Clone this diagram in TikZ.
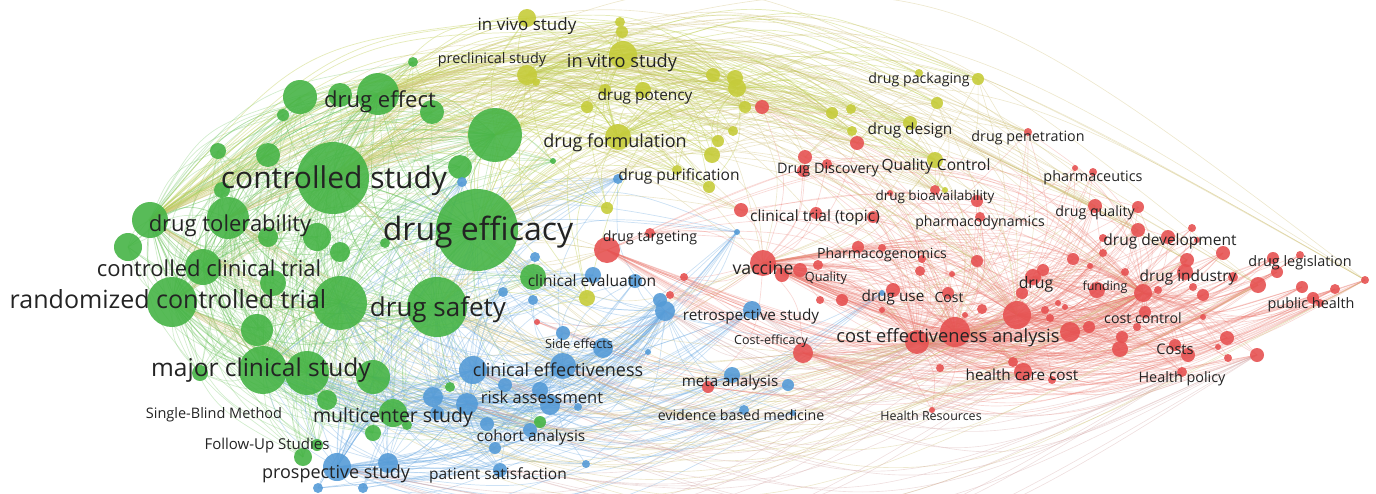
\documentclass[tikz,border=0pt]{standalone}
\usepackage{fontspec}
\setmainfont{Open Sans}
\usetikzlibrary{calc}

\definecolor{grn}{RGB}{70,180,70}
\definecolor{red}{RGB}{230,82,82}
\definecolor{blu}{RGB}{85,155,215}
\definecolor{yel}{RGB}{198,204,58}
\definecolor{grnline}{RGB}{110,195,95}
\definecolor{redline}{RGB}{232,115,105}
\definecolor{bluline}{RGB}{110,170,225}
\definecolor{yelline}{RGB}{190,205,80}
\definecolor{mixline}{RGB}{205,190,115}
\definecolor{lowline}{RGB}{210,165,165}
\definecolor{lbl}{RGB}{35,35,35}

\pgfdeclarelayer{edges}
\pgfsetlayers{edges,main}

% curved link, bent away from the middle of the map
\newcommand\linkarc[4]{%
  \draw[#1] let \p1=(#2.center), \p2=(#3.center),
    \n1={sign(((\x1+\x2)/200-1.7)*(\y1-\y2)/100+((\y1+\y2)/200+0.625)*(\x2-\x1)/100)} in
    (\p1) .. controls ({(\x1+\x2)/2+\n1*#4*(\y1-\y2)},{(\y1+\y2)/2+\n1*#4*(\x2-\x1)}) .. (\p2);}
\newcommand\termfont[1]{\pgfmathsetmacro\termsize{#1/4}\fontsize{\termsize}{\termsize}\selectfont}

\tikzset{
  gn/.style={circle,inner sep=0pt,fill=grn,fill opacity=.9,minimum size=.5*#1},
  rn/.style={circle,inner sep=0pt,fill=red,fill opacity=.9,minimum size=.5*#1},
  bn/.style={circle,inner sep=0pt,fill=blu,fill opacity=.9,minimum size=.5*#1},
  yn/.style={circle,inner sep=0pt,fill=yel,fill opacity=.9,minimum size=.5*#1},
  term/.style={font=\termfont{#1},text=lbl,inner sep=0pt,anchor=mid},
  gline/.style={draw=grnline,line width=.18pt,draw opacity=.3},
  rline/.style={draw=redline,line width=.17pt,draw opacity=.27},
  bline/.style={draw=bluline,line width=.18pt,draw opacity=.35},
  yline/.style={draw=yelline,line width=.18pt,draw opacity=.4},
  mline/.style={draw=mixline,line width=.16pt,draw opacity=.35},
  lline/.style={draw=lowline,line width=.16pt,draw opacity=.35}
}

\begin{document}
\begin{tikzpicture}[x=.25pt,y=-.25pt]
\useasboundingbox (0,0) rectangle (1376,493);

% green cluster
\node[gn=41] (g1) at (477,230) {};
\node[gn=36] (g2) at (333,178) {};
\node[gn=30] (g3) at (437,307) {};
\node[gn=27] (g4) at (340,303) {};
\node[gn=25] (g5) at (172,302) {};
\node[gn=27] (g6) at (495,135) {};
\node[gn=24] (g7) at (263,370) {};
\node[gn=22] (g8) at (307,373) {};
\node[gn=21] (g9) at (378,94) {};
\node[gn=21] (g10) at (228,218) {};
\node[gn=17] (g11) at (300,97) {};
\node[gn=18] (g12) at (150,220) {};
\node[gn=17] (g13) at (373,377) {};
\node[gn=18] (g14) at (203,267) {};
\node[gn=14] (g15) at (128,247) {};
\node[gn=12] (g16) at (268,155) {};
\node[gn=8] (g17) at (218,151) {};
\node[gn=14] (g18) at (317,237) {};
\node[gn=10] (g19) at (340,252) {};
\node[gn=13] (g20) at (273,283) {};
\node[gn=16] (g21) at (257,330) {};
\node[gn=14] (g22) at (393,413) {};
\node[gn=10] (g23) at (327,400) {};
\node[gn=12] (g24) at (460,167) {};
\node[gn=13] (g25) at (533,277) {};
\node[gn=10] (g26) at (268,237) {};
\node[gn=12] (g27) at (432,112) {};
\node[gn=5] (g28) at (413,62) {};
\node[gn=6] (g29) at (283,115) {};
\node[gn=8] (g30) at (200,373) {};
\node[gn=8] (g31) at (373,433) {};
\node[gn=9] (g32) at (303,457) {};
\node[gn=6] (g33) at (317,445) {};
\node[gn=12] (g34) at (340,95) {};
\node[gn=3] (g35) at (553,161) {};
\node[gn=5] (g36) at (450,387) {};
\node[gn=6] (g37) at (540,422) {};
\node[gn=8] (g38) at (222,190) {};
\node[gn=5] (g39) at (385,243) {};
\node[gn=5] (g40) at (407,425) {};

% blue cluster
\node[bn=14] (b1) at (473,370) {};
\node[bn=13] (b2) at (563,366) {};
\node[bn=10] (b3) at (603,348) {};
\node[bn=7] (b4) at (563,333) {};
\node[bn=10] (b5) at (665,311) {};
\node[bn=9] (b6) at (752,310) {};
\node[bn=7] (b7) at (660,300) {};
\node[bn=7] (b8) at (635,281) {};
\node[bn=8] (b9) at (593,275) {};
\node[bn=5] (b10) at (535,257) {};
\node[bn=5] (b11) at (503,292) {};
\node[bn=5] (b12) at (533,300) {};
\node[bn=11] (b13) at (467,404) {};
\node[bn=10] (b14) at (550,405) {};
\node[bn=8] (b15) at (540,390) {};
\node[bn=7] (b16) at (505,385) {};
\node[bn=10] (b17) at (433,397) {};
\node[bn=7] (b18) at (487,424) {};
\node[bn=7] (b19) at (530,430) {};
\node[bn=6] (b20) at (495,448) {};
\node[bn=7] (b21) at (500,470) {};
\node[bn=4] (b22) at (586,464) {};
\node[bn=14] (b23) at (337,467) {};
\node[bn=10] (b24) at (388,463) {};
\node[bn=5] (b25) at (318,488) {};
\node[bn=5] (b26) at (363,488) {};
\node[bn=8] (b27) at (732,375) {};
\node[bn=6] (b28) at (788,385) {};
\node[bn=5] (b29) at (744,410) {};
\node[bn=3] (b30) at (793,413) {};
\node[bn=4] (b31) at (578,407) {};
\node[bn=3] (b32) at (648,352) {};
\node[bn=5] (b33) at (462,182) {};
\node[bn=5] (b34) at (618,179) {};
\node[bn=3] (b35) at (737,232) {};
\node[bn=3] (b36) at (882,293) {};
\node[bn=7] (b37) at (437,413) {};

% yellow cluster
\node[yn=9] (y1) at (527,18) {};
\node[yn=5] (y2) at (620,22) {};
\node[yn=6] (y3) at (622,32) {};
\node[yn=14] (y4) at (623,55) {};
\node[yn=10] (y5) at (527,75) {};
\node[yn=4] (y6) at (536,82) {};
\node[yn=8] (y7) at (643,90) {};
\node[yn=6] (y8) at (605,90) {};
\node[yn=6] (y9) at (587,107) {};
\node[yn=7] (y10) at (713,75) {};
\node[yn=8] (y11) at (735,78) {};
\node[yn=9] (y12) at (737,88) {};
\node[yn=6] (y13) at (745,107) {};
\node[yn=5] (y14) at (733,131) {};
\node[yn=6] (y15) at (718,141) {};
\node[yn=13] (y16) at (618,137) {};
\node[yn=8] (y17) at (712,155) {};
\node[yn=5] (y18) at (677,170) {};
\node[yn=6] (y19) at (709,187) {};
\node[yn=6] (y20) at (607,208) {};
\node[yn=8] (y21) at (587,298) {};
\node[yn=6] (y22) at (832,113) {};
\node[yn=5] (y23) at (851,109) {};
\node[yn=5] (y24) at (852,131) {};
\node[yn=6] (y25) at (978,79) {};
\node[yn=4] (y26) at (919,73) {};
\node[yn=6] (y27) at (937,103) {};
\node[yn=7] (y28) at (910,123) {};
\node[yn=8] (y29) at (935,160) {};
\node[yn=3] (y30) at (945,190) {};

% red cluster
\node[rn=13] (r1) at (607,250) {};
\node[rn=5] (r2) at (650,233) {};
\node[rn=13] (r3) at (763,263) {};
\node[rn=7] (r4) at (782,275) {};
\node[rn=7] (r5) at (800,270) {};
\node[rn=5] (r6) at (818,265) {};
\node[rn=4] (r7) at (820,300) {};
\node[rn=6] (r8) at (842,300) {};
\node[rn=4] (r9) at (670,295) {};
\node[rn=3] (r10) at (537,322) {};
\node[rn=6] (r11) at (708,387) {};
\node[rn=10] (r12) at (803,353) {};
\node[rn=7] (r13) at (741,210) {};
\node[rn=6] (r14) at (816,213) {};
\node[rn=6] (r15) at (873,217) {};
\node[rn=7] (r16) at (857,143) {};
\node[rn=7] (r17) at (805,157) {};
\node[rn=6] (r18) at (803,171) {};
\node[rn=5] (r19) at (827,164) {};
\node[rn=7] (r20) at (762,107) {};
\node[rn=3] (r21) at (890,193) {};
\node[rn=5] (r22) at (935,190) {};
\node[rn=6] (r23) at (977,201) {};
\node[rn=5] (r24) at (980,217) {};
\node[rn=6] (r25) at (858,247) {};
\node[rn=4] (r26) at (882,248) {};
\node[rn=4] (r27) at (922,259) {};
\node[rn=5] (r28) at (920,271) {};
\node[rn=3] (r29) at (952,274) {};
\node[rn=6] (r30) at (977,261) {};
\node[rn=7] (r31) at (893,290) {};
\node[rn=6] (r32) at (948,293) {};
\node[rn=3] (r33) at (882,310) {};
\node[rn=3] (r34) at (965,315) {};
\node[rn=5] (r35) at (982,309) {};
\node[rn=15] (r36) at (955,332) {};
\node[rn=14] (r37) at (1017,315) {};
\node[rn=12] (r38) at (917,342) {};
\node[rn=6] (r39) at (1043,270) {};
\node[rn=8] (r40) at (1033,277) {};
\node[rn=6] (r41) at (1022,293) {};
\node[rn=4] (r42) at (1045,310) {};
\node[rn=4] (r43) at (1050,318) {};
\node[rn=3] (r44) at (1058,303) {};
\node[rn=3] (r45) at (1065,307) {};
\node[rn=10] (r46) at (1070,332) {};
\node[rn=6] (r47) at (1089,327) {};
\node[rn=6] (r48) at (1073,259) {};
\node[rn=3] (r49) at (1090,266) {};
\node[rn=8] (r50) at (1097,290) {};
\node[rn=4] (r51) at (1103,253) {};
\node[rn=4] (r52) at (1125,272) {};
\node[rn=7] (r53) at (1187,260) {};
\node[rn=8] (r54) at (1185,272) {};
\node[rn=5] (r55) at (1233,277) {};
\node[rn=7] (r56) at (1223,253) {};
\node[rn=9] (r57) at (1143,293) {};
\node[rn=4] (r58) at (1158,290) {};
\node[rn=4] (r59) at (1193,287) {};
\node[rn=6] (r60) at (1203,295) {};
\node[rn=6] (r61) at (1145,312) {};
\node[rn=3] (r62) at (1203,317) {};
\node[rn=4] (r63) at (1137,327) {};
\node[rn=6] (r64) at (1122,337) {};
\node[rn=8] (r65) at (1120,349) {};
\node[rn=6] (r66) at (1175,345) {};
\node[rn=7] (r67) at (1188,355) {};
\node[rn=5] (r68) at (1182,372) {};
\node[rn=7] (r69) at (1227,338) {};
\node[rn=3] (r70) at (1218,347) {};
\node[rn=4] (r71) at (1228,358) {};
\node[rn=7] (r72) at (1257,355) {};
\node[rn=9] (r73) at (1023,372) {};
\node[rn=5] (r74) at (1013,362) {};
\node[rn=4] (r75) at (1052,380) {};
\node[rn=4] (r76) at (940,368) {};
\node[rn=3] (r77) at (932,410) {};
\node[rn=6] (r78) at (1273,258) {};
\node[rn=4] (r79) at (1300,255) {};
\node[rn=6] (r80) at (1277,272) {};
\node[rn=8] (r81) at (1258,285) {};
\node[rn=6] (r82) at (1302,287) {};
\node[rn=6] (r83) at (1313,298) {};
\node[rn=4] (r84) at (1320,303) {};
\node[rn=5] (r85) at (1335,289) {};
\node[rn=4] (r86) at (1365,280) {};
\node[rn=7] (r87) at (1138,230) {};
\node[rn=7] (r88) at (1168,237) {};
\node[rn=4] (r89) at (1192,228) {};
\node[rn=3] (r90) at (1197,240) {};
\node[rn=4] (r92) at (1103,238) {};
\node[rn=7] (r93) at (1095,206) {};
\node[rn=6] (r94) at (1138,207) {};
\node[rn=3] (r95) at (1075,168) {};
\node[rn=4] (r96) at (1093,172) {};
\node[rn=4] (r97) at (1028,132) {};
\node[rn=4] (r98) at (684,277) {};

% connectors
\begin{pgfonlayer}{edges}
\foreach \a in {g1,g2,g3,g4,g5,g6,g7,g8,g9,g10,g11,g12,g13,g14,g15,g16,g17,g18,g19,g20,g21,g22,g23,g24,g25,g26,g27,g28,g29,g30,g31,g32,g33,g34,g35,g36,g37,g38,g39,g40}
  \foreach \h in {g1,g2,g3,g4,g5,g6,g7,g8,g9,g10,g12,g14}
    \linkarc{gline}{\a}{\h}{.2};
\foreach \a in {b1,b2,b3,b4,b5,b6,b7,b8,b9,b10,b11,b12,b13,b14,b15,b16,b17,b18,b19,b20,b21,b22,b23,b24,b25,b26,b27,b28,b29,b30,b31,b32,b33,b34,b35,b36,b37}
  \foreach \h in {b1,b2,b13,b23,b5,b17}
    \linkarc{bline}{\a}{\h}{.2};
\foreach \a in {b1,b2,b3,b5,b6,b9,b13,b14,b16,b17,b18,b21,b23,b24,b27,b33,b34,b35}
  \foreach \h in {g1,g3,g4,g7,g8,g13,g22}
    \linkarc{bline}{\a}{\h}{.2};
\foreach \a in {y1,y2,y3,y4,y5,y6,y7,y8,y9,y10,y11,y12,y13,y14,y15,y16,y17,y18,y19,y20,y21,y22,y23,y24,y25,y26,y27,y28,y29,y30}
  \foreach \h in {y4,y16,y5,y12}
    \linkarc{yline}{\a}{\h}{.2};
\foreach \a in {y1,y2,y3,y4,y5,y6,y7,y8,y9,y10,y11,y12,y13,y14,y15,y16,y17,y18,y19,y20,y21,y22,y24,y28,y29}
  \foreach \h in {g1,g2,g6,g9,g12}
    \linkarc{yline}{\h}{\a}{.2};
\foreach \a in {r1,r2,r3,r4,r5,r6,r7,r8,r9,r10,r11,r12,r13,r14,r15,r16,r17,r18,r19,r20,r21,r22,r23,r24,r25,r26,r27,r28,r29,r30,r31,r32,r33,r34,r35,r36,r37,r38,r39,r40,r41,r42,r43,r44,r45,r46,r47,r48,r49,r50,r51,r52,r53,r54,r55,r56,r57,r58,r59,r60,r61,r62,r63,r64,r65,r66,r67,r68,r69,r70,r71,r72,r73,r74,r75,r76,r77,r78,r79,r80,r81,r82,r83,r84,r85,r86,r87,r88,r89,r90,r92,r93,r94,r95,r96,r97,r98}
  \foreach \h in {r36,r37,r38,r3,r57}
    \linkarc{rline}{\a}{\h}{.18};
\foreach \a in {r53,r54,r56,r57,r78,r80,r81,r82,r85,r86,r66,r67,r69,r72,r87,r88,r93,r94,r65,r68}
  \foreach \h in {r46,r40,r1,r12}
    \linkarc{rline}{\h}{\a}{.18};
% long links between clusters
\foreach \a in {r1,r3,r12,r13,r16,r20,r22,r30,r36,r37,r38,r53,r57,r73,r81,r86,r87,r93,r97}
  \foreach \h in {g1,g2,g3,g5,g9,g10,g12}
    \linkarc{mline}{\h}{\a}{.25};
\foreach \a in {r12,r36,r37,r38,r68,r72,r73}
  \foreach \h in {b1,b2,b5,b6,b13,b21,b23,b27}
    \linkarc{lline}{\h}{\a}{.22};
\foreach \a in {r3,r16,r17,r20,r22,r36,r37}
  \foreach \h in {y4,y12,y17,y25,y27,y28,y29}
    \linkarc{mline}{\h}{\a}{.2};
\end{pgfonlayer}

% labels
\node[term=32] (t1) at (478,230) {drug efficacy};
\node[term=30] (t2) at (334,178) {controlled study};
\node[term=25] (t3) at (168,298) {randomized controlled trial};
\node[term=26] (t4) at (438,306) {drug safety};
\node[term=22] (t5) at (230,221) {drug tolerability};
\node[term=22] (t6) at (209,266) {controlled clinical trial};
\node[term=24.5] (t7) at (261,366) {major clinical study};
\node[term=22] (t8) at (380,97) {drug effect};
\node[term=19.5] (t9) at (393,412) {multicenter study};
\node[term=14.5] (t10) at (214,408) {Single-Blind Method};
\node[term=15] (t11) at (267,439) {Follow-Up Studies};
\node[term=18] (t12) at (336,468) {prospective study};
\node[term=15.5] (t13) at (498,469) {patient satisfaction};
\node[term=15.5] (t14) at (531,431) {cohort analysis};
\node[term=16.5] (t15) at (542,393) {risk assessment};
\node[term=18] (t16) at (558,366) {clinical effectiveness};
\node[term=12.7] (t17) at (579,338) {Side effects};
\node[term=15.6] (t18) at (592,276) {clinical evaluation};
\node[term=15.3] (t19) at (751,310) {retrospective study};
\node[term=12.5] (t20) at (771,334) {Cost-efficacy};
\node[term=15.2] (t21) at (730,376) {meta analysis};
\node[term=14.2] (t22) at (741,410) {evidence based medicine};
\node[term=12.5] (t23) at (931,410) {Health Resources};
\node[term=17.7] (t24) at (763,264) {vaccine};
\node[term=12.7] (t25) at (826,271) {Quality};
\node[term=15.3] (t26) at (893,291) {drug use};
\node[term=14] (t27) at (949,292) {Cost};
\node[term=18.3] (t28) at (948,332) {cost effectiveness analysis};
\node[term=14.1] (t29) at (882,248) {Pharmacogenomics};
\node[term=14.2] (t30) at (650,231) {drug targeting};
\node[term=15.5] (t31) at (815,211) {clinical trial (topic)};
\node[term=14.1] (t32) at (980,216) {pharmacodynamics};
\node[term=13.5] (t33) at (935,190) {drug bioavailability};
\node[term=14.4] (t34) at (828,163) {Drug Discovery};
\node[term=15.5] (t35) at (936,160) {Quality Control};
\node[term=15.6] (t36) at (679,170) {drug purification};
\node[term=18] (t37) at (615,137) {drug formulation};
\node[term=15.4] (t38) at (645,90) {drug potency};
\node[term=18.2] (t39) at (622,57) {in vitro study};
\node[term=14.4] (t40) at (492,53) {preclinical study};
\node[term=17] (t41) at (527,20) {in vivo study};
\node[term=14.2] (t42) at (919,73) {drug packaging};
\node[term=15.4] (t43) at (910,124) {drug design};
\node[term=14.3] (t44) at (1028,131) {drug penetration};
\node[term=14.4] (t45) at (1093,171) {pharmaceutics};
\node[term=14.2] (t46) at (1095,206) {drug quality};
\node[term=15.5] (t47) at (1170,235) {drug development};
\node[term=14.4] (t48) at (1300,256) {drug legislation};
\node[term=15.4] (t49) at (1188,271) {drug industry};
\node[term=15.8] (t50) at (1036,278) {drug};
\node[term=12.5] (t51) at (1105,280) {funding};
\node[term=14.4] (t52) at (1311,298) {public health};
\node[term=14.2] (t53) at (1143,313) {cost control};
\node[term=14.6] (t54) at (1175,344) {Costs};
\node[term=14.4] (t55) at (1182,372) {Health policy};
\node[term=15.3] (t56) at (1022,370) {health care cost};

\end{tikzpicture}
\end{document}
